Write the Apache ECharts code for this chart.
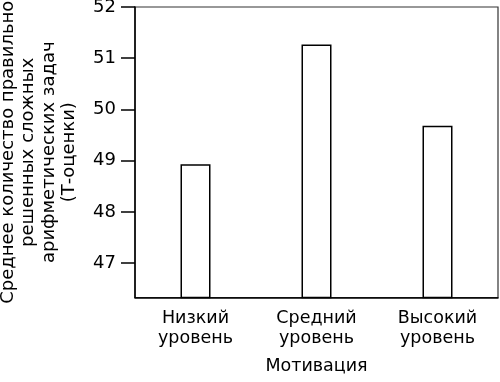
<!DOCTYPE html>
<html><head><meta charset="utf-8">
<script src="https://cdn.jsdelivr.net/npm/echarts@6/dist/echarts.min.js"></script>
<style>html,body{margin:0;padding:0;background:#fff}#c{width:500px;height:382px}</style>
</head><body><div id="c"></div>
<script>
const categories = ['Низкий\nуровень', 'Средний\nуровень', 'Высокий\nуровень'];
const values = [48.93, 51.27, 49.68];
const yTicks = [47, 48, 49, 50, 51, 52];
const yMin = 46.33;
const yMax = 52;
const yTitle = 'Среднее количество правильно\nрешенных сложных\nарифметических задач\n(Т-оценки)';
const xTitle = 'Мотивация';

const font = '"DejaVu Sans", sans-serif';
const chart = echarts.init(document.getElementById('c'), null, {renderer: 'canvas'});
chart.setOption({
  animation: false,
  backgroundColor: '#fff',
  grid: {left: 135, right: 2, top: 7, bottom: 84.5, containLabel: false, outerBoundsMode: 'none',
         show: true, borderColor: '#333', borderWidth: 1.2, backgroundColor: 'transparent'},
  xAxis: {
    type: 'category',
    data: categories,
    name: xTitle,
    nameLocation: 'middle',
    nameGap: 60,
    nameTextStyle: {fontFamily: font, fontSize: 17.5, color: '#000'},
    axisLine: {lineStyle: {color: '#000', width: 1.5}},
    axisTick: {show: false},
    axisLabel: {fontFamily: font, fontSize: 17.5, color: '#000', lineHeight: 20, margin: 11}
  },
  yAxis: {
    type: 'value',
    min: yMin,
    max: yMax,
    name: yTitle,
    nameLocation: 'middle',
    nameGap: 55,
    nameRotate: 90,
    nameTextStyle: {fontFamily: font, fontSize: 18, color: '#000', lineHeight: 20.5, align: 'center'},
    axisLine: {show: true, lineStyle: {color: '#000', width: 1.5}},
    axisTick: {show: true, length: 14, customValues: yTicks, lineStyle: {color: '#000', width: 1.5}},
    axisLabel: {fontFamily: font, fontSize: 18, color: '#000', margin: 19, customValues: yTicks},
    splitLine: {show: false}
  },
  series: [{
    type: 'bar',
    data: values,
    barWidth: 30,
    itemStyle: {color: '#fff', borderColor: '#000', borderWidth: 1.5}
  }]
});
</script></body></html>
